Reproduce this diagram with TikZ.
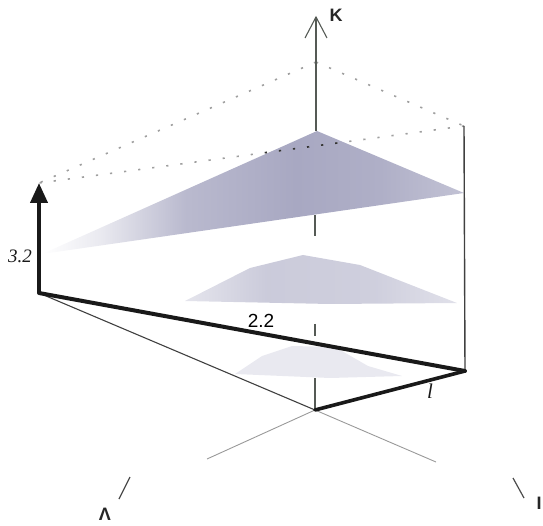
\documentclass[tikz,border=0pt]{standalone}
\usepackage{fontspec}
\setmainfont{Liberation Serif}
\newfontfamily\sansf{Liberation Sans}
\usetikzlibrary{arrows.meta}
\definecolor{stip}{RGB}{168,168,194}
\definecolor{axisgray}{RGB}{85,90,85}
\pgfdeclarehorizontalshading{topfade}{100bp}{color(0bp)=(white); color(25bp)=(white); color(32bp)=(stip!25); color(42bp)=(stip!80); color(55bp)=(stip); color(65bp)=(stip!92); color(75bp)=(stip!70); color(100bp)=(stip!70)}
\pgfdeclarehorizontalshading{midfade}{100bp}{color(0bp)=(stip!30); color(25bp)=(stip!30); color(40bp)=(stip!60); color(60bp)=(stip!55); color(75bp)=(stip!35); color(100bp)=(stip!35)}
\tikzset{
  thickline/.style={line width=4pt, black!90, line cap=round, line join=round},
  thinline/.style={line width=1.1pt, black!75},
  axisline/.style={line width=1.1pt, axisgray},
  faintaxis/.style={line width=0.9pt, gray!80},
  dotline/.style={line width=1.6pt, gray!75, dash pattern=on 2.2pt off 12pt},
  tickline/.style={line width=1.2pt, black!70},
  sanslabel/.style={font=\sansf\bfseries\fontsize{18}{18}\selectfont, black!85, inner sep=0pt},
  seriflabel/.style={font=\itshape\fontsize{19}{19}\selectfont, black!90, inner sep=0pt}
}
\begin{document}
\begin{tikzpicture}[x=1pt,y=-1pt]
\useasboundingbox (0,0) rectangle (543,526);
% key points
\coordinate (O) at (315,410);
\coordinate (R) at (465,371);
\coordinate (L) at (39,293);
\coordinate (P) at (39,183);
\coordinate (T) at (316,62);
\coordinate (Q) at (464,126);
\coordinate (Ktip) at (316,17);
\coordinate (Kl) at (305,38);
\coordinate (Kr) at (327,38);
\coordinate (Kb1) at (316,131);
\coordinate (Ka2) at (315,215);
\coordinate (Kb2) at (315,236);
\coordinate (Ka3) at (315,324);
\coordinate (Kb3) at (315,336);
\coordinate (Ka4) at (315,378);
\coordinate (LamEnd) at (207,459);
\coordinate (LamT1) at (130,477);
\coordinate (LamT2) at (119,499);
\coordinate (IEnd) at (436,462);
\coordinate (IT1) at (513,478);
\coordinate (IT2) at (524,498);
% shaded level regions
\shade[shading=topfade] (317,131) -- (464,193) -- (42,254) -- cycle;
\shade[shading=midfade] (185,301) -- (250,268) -- (303,255) -- (360,265) -- (457,303) -- (330,304) -- cycle;
\fill[stip!25] (235,374) -- (262,356) -- (292,346) -- (335,347) -- (368,366) -- (402,376) -- (330,378) -- cycle;
% dotted roof
\draw[dotline] (T) -- (P);
\draw[dotline] (T) -- (Q);
\draw[dotline] (Q) -- (P);
\begin{scope}
  \clip (258,0) rectangle (346,526);
  \draw[dotline, black!80] (Q) -- (P);
\end{scope}
% K axis (partly hidden)
\draw[axisline] (Ktip) -- (Kb1);
\draw[axisline] (Ka2) -- (Kb2);
\draw[axisline] (Ka3) -- (Kb3);
\draw[axisline] (Ka4) -- (O);
\draw[axisline, line join=miter] (Kl) -- (Ktip) -- (Kr);
% ground axes
\draw[faintaxis] (O) -- (LamEnd);
\draw[faintaxis] (O) -- (IEnd);
\draw[tickline] (LamT1) -- (LamT2);
\draw[tickline] (IT1) -- (IT2);
% right vertical
\draw[line width=1.4pt, black!75] (Q) -- (R);
% thin line
\draw[thinline] (L) -- (O);
% thick lines
\draw[thickline] (L) -- (R);
\draw[thickline, line width=3.6pt] (O) -- (R);
\draw[thickline, line cap=butt, -{Triangle[length=20pt,width=17pt]}] (L) -- (P);
% labels
\node[sanslabel] (Klab) at (336,15) {K};
\node[sanslabel] (Ilab) at (539,503) {I};
\node[sanslabel] (Lamlab) at (105,514) {Λ};
\node[sanslabel, font=\sansf\fontsize{19}{19}\selectfont, black] (v22) at (261,321) {2.2};
\node[seriflabel] (v32) at (20,256) {3.2};
\node[seriflabel, font=\itshape\fontsize{21}{21}\selectfont] (llab) at (430,391) {l};
\end{tikzpicture}
\end{document}
